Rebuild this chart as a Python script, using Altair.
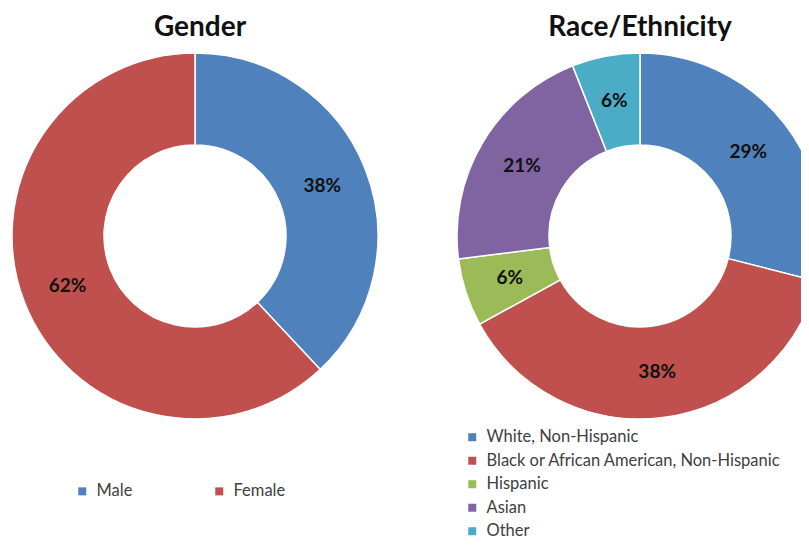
import altair as alt
import pandas as pd

gender_cats = ["Male", "Female"]
gender_vals = [38, 62]
gender_colors = ["#4F81BD", "#C0504D"]

race_cats = ["White, Non-Hispanic", "Black or African American, Non-Hispanic",
             "Hispanic", "Asian", "Other"]
race_vals = [29, 38, 6, 21, 6]
race_colors = ["#4F81BD", "#C0504D", "#9BBB59", "#8064A2", "#4BACC6"]

titles = ["Gender", "Race/Ethnicity"]

FONT = "Lato"
INNER, OUTER, MID = 91, 183, 137
LX, RX, CY = 187, 632, 228

g = pd.DataFrame({"cat": gender_cats, "val": gender_vals,
                  "idx": range(len(gender_cats)),
                  "label": [f"{v}%" for v in gender_vals]})
r = pd.DataFrame({"cat": race_cats, "val": race_vals,
                  "idx": range(len(race_cats)),
                  "label": [f"{v}%" for v in race_vals]})


def donut(df, cats, colors, cx, legend):
    base = alt.Chart(df).encode(
        theta=alt.Theta("val:Q", stack=True),
        order=alt.Order("idx:Q"),
        x=alt.value(cx), y=alt.value(CY),
    )
    arc = base.mark_arc(innerRadius=INNER, outerRadius=OUTER,
                        stroke="white", strokeWidth=1.5).encode(
        color=alt.Color("cat:N", scale=alt.Scale(domain=cats, range=colors),
                        sort=cats, legend=legend)
    )
    txt = base.mark_text(radius=MID, font=FONT, fontSize=19, fontWeight="bold",
                         color="#111111").encode(text="label:N")
    return arc, txt


leg_g = alt.Legend(orient="none", legendX=66, legendY=475, direction="horizontal",
                   title=None, symbolType="square", symbolSize=64,
                   symbolStrokeWidth=0, labelFont=FONT, labelFontSize=16.5,
                   labelColor="#404040", columnPadding=78, labelOffset=6)
leg_r = alt.Legend(orient="none", legendX=456, legendY=421, direction="vertical",
                   title=None, symbolType="square", symbolSize=64,
                   symbolStrokeWidth=0, labelFont=FONT, labelFontSize=16.5,
                   labelColor="#404040", rowPadding=6.5, labelOffset=6,
                   labelLimit=400)

ga, gt = donut(g, gender_cats, gender_colors, LX, leg_g)
ra, rt = donut(r, race_cats, race_colors, RX, leg_r)

tdf = pd.DataFrame({"t": titles, "px": [LX + 5, RX + 0]})
title_layer = alt.Chart(tdf).mark_text(font=FONT, fontSize=28, fontWeight="bold",
                                       color="#111111", baseline="alphabetic").encode(
    text="t:N", x=alt.X("px:Q", scale=None), y=alt.value(28)
)

chart = alt.layer(ga, gt, ra, rt, title_layer).resolve_scale(
    color="independent", theta="independent"
).properties(
    width=793, height=534, autosize=alt.AutoSizeParams(type="none"), padding=0
).configure_view(stroke=None)

chart.save("out.html", embed_options={"renderer": "svg", "actions": False})
